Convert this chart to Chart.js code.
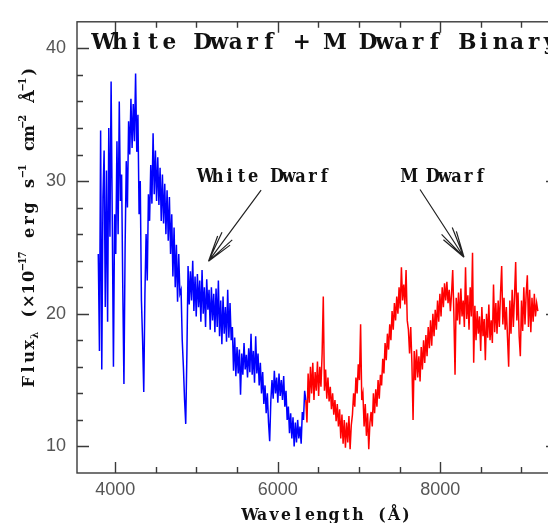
<!DOCTYPE html>
<html>
<head>
<meta charset="utf-8">
<script src="https://cdn.jsdelivr.net/npm/chart.js@4.4.1/dist/chart.umd.min.js"></script>
<style>
	html, body { margin: 0; padding: 0; background: #fff; overflow: hidden; }
</style>
</head>
<body>
<canvas id="spectrum" width="570" height="523"></canvas>
<script>
// wavelength grid (Angstrom) and flux (1e-17 erg/s/cm2/A)
const gridStep = 14.35;
const blueStart = 3792;
const blueFlux = [
	24.5, 17.2, 33.8, 15.8, 28.8, 32.3, 20.5, 30.8, 19.4, 34.0,
	25.8, 37.5, 27.0, 16.0, 27.5, 24.5, 33.0, 26.0, 36.0, 28.5,
	30.5, 22.0, 14.7, 25.0, 31.5, 28.0, 34.5, 32.0, 36.2, 32.5,
	35.8, 33.0, 38.1, 32.2, 35.0, 27.5, 30.0, 21.0, 18.0, 14.1,
	21.5, 26.0, 22.5, 29.0, 27.0, 31.2, 28.3, 33.6, 29.0, 32.3,
	28.5, 31.8, 28.2, 31.0, 27.0, 30.5, 26.8, 29.8, 26.0, 29.3,
	25.5, 28.8, 24.5, 27.5, 22.8, 26.5, 22.0, 25.2, 20.9, 24.5,
	21.5, 21.8, 18.0, 16.0, 13.5, 11.7, 17.0, 23.6, 20.7, 23.2,
	21.0, 24.0, 20.2, 22.8, 19.8, 23.0, 20.5, 22.5, 19.4, 23.3,
	20.0, 22.0, 19.0, 22.6, 20.3, 21.8, 18.8, 22.0, 19.5, 21.5,
	18.6, 21.9, 19.0, 22.5, 18.3, 21.0, 17.7, 21.3, 18.5, 20.5,
	17.9, 21.8, 18.2, 20.8, 18.0, 19.0, 15.7, 18.2, 15.3, 17.5,
	15.5, 17.3, 13.9, 17.0, 15.4, 17.8, 15.8, 16.9, 15.2, 17.4,
	15.6, 18.5, 15.4, 17.2, 14.8, 18.3, 15.5, 17.0, 14.6, 16.3,
	14.0, 15.6, 13.2, 14.6, 12.5, 14.0, 11.8, 10.4, 13.5, 15.0,
	13.6, 15.7, 14.0, 15.2, 13.3, 15.5, 13.8, 15.0, 13.5, 15.3,
	13.0, 14.2, 12.0, 13.0, 11.0, 12.5, 10.6, 12.2, 10.0, 11.8,
	10.3, 12.0, 10.6, 11.5, 10.2, 12.6, 12.0, 14.2, 13.5
];
const redStart = 6346;
const redFlux = [
	13.5, 11.8, 15.5, 13.3, 16.0, 14.0, 16.3, 13.5, 15.6, 14.2,
	16.4, 13.8, 16.0, 14.5, 17.0, 21.3, 14.2, 15.8, 13.6, 15.2,
	13.4, 14.5, 12.8, 14.0, 12.4, 13.5, 11.9, 13.2, 11.5, 12.8,
	10.6, 12.4, 10.2, 12.0, 9.9, 11.8, 10.3, 12.3, 9.8, 11.6,
	12.4, 14.0, 13.0, 15.2, 14.0, 16.2, 15.0, 19.2, 13.5, 14.0,
	11.5, 13.2, 10.8, 12.5, 9.8, 11.8, 12.6, 11.5, 14.0, 12.5,
	14.3, 13.0, 15.0, 13.6, 15.4, 14.6, 16.6, 15.5, 17.8, 16.5,
	18.5, 17.3, 19.2, 18.0, 20.2, 18.8, 20.8, 19.5, 21.3, 20.0,
	22.0, 20.4, 23.5, 21.0, 22.2, 20.7, 23.3, 19.5, 18.8, 17.0,
	19.0, 16.3, 12.0, 17.2, 15.0, 17.3, 15.2, 16.8, 14.9, 17.5,
	15.8, 18.0, 16.3, 18.4, 16.8, 19.0, 17.4, 19.5, 17.6, 20.0,
	18.3, 20.3, 18.8, 21.0, 19.4, 21.5, 19.8, 22.0, 20.5, 22.3,
	21.0, 22.4, 20.8, 21.8, 20.2, 21.5, 23.3, 20.0, 15.4, 21.2,
	19.5, 21.6, 19.2, 21.9, 19.8, 21.0, 19.0, 23.5, 19.6, 21.4,
	18.8, 22.0, 19.8, 24.6, 16.3, 20.6, 18.0, 20.2, 18.5, 19.8,
	17.2, 20.5, 18.3, 19.6, 16.5, 20.0, 18.2, 20.7, 18.0, 19.5,
	17.8, 22.2, 18.6, 20.8, 18.5, 21.0, 19.0, 21.5, 23.6, 19.2,
	21.2, 18.8, 20.5, 18.2, 16.0, 21.0, 18.5, 21.8, 19.0, 21.3,
	23.9, 19.5, 21.6, 18.3, 16.8, 21.0, 18.7, 22.0, 19.2, 21.5,
	22.9, 19.0, 21.8, 18.6, 21.2, 19.4, 21.5, 19.8, 20.8, 20.2
];

// axis limits and tick marks
const xRange = [3530, 9450];
const yRange = [8, 42];
const xTickValues = [4000, 4500, 5000, 5500, 6000, 6500, 7000, 7500, 8000, 8500, 9000];
const xLabelValues = [4000, 6000, 8000];
const yTickValues = [10, 12, 14, 16, 18, 20, 22, 24, 26, 28, 30, 32, 34, 36, 38, 40];
const yLabelValues = [10, 20, 30, 40];

const titleText = 'White Dwarf + M Dwarf Binary';
const xTitle = 'Wavelength (Å)';

const serif = '"DejaVu Serif"';

function toPoints(start, flux) {
	return flux.map((y, i) => ({ x: start + i * gridStep, y: y }));
}

// draw characters each centred in a fixed cell (PGPLOT-like spacing)
// parts: [text, cellScale, baselineShiftEm]
function cellText(ctx, parts, x, y, cell, size, sx) {
	parts.forEach(([str, k, shift]) => {
		for (const ch of str) {
			const w = cell * k;
			ctx.save();
			ctx.translate(x + w / 2, y + shift * size);
			ctx.scale(sx, 1);
			ctx.font = `bold ${(k < 1 ? size * 0.62 : size).toFixed(1)}px ${serif}`;
			ctx.textAlign = 'center';
			ctx.textBaseline = 'alphabetic';
			ctx.fillStyle = '#111';
			ctx.fillText(ch, 0, 0);
			ctx.restore();
			x += w;
		}
	});
}

function arrow(ctx, x1, y1, x2, y2) {
	const ang = Math.atan2(y1 - y2, x1 - x2);
	ctx.beginPath();
	ctx.moveTo(x1, y1);
	ctx.lineTo(x2, y2);
	[[-0.2, 32], [0.2, 32], [-0.29, 27], [0.29, 27]].forEach(([d, len]) => {
		ctx.moveTo(x2, y2);
		ctx.lineTo(x2 + len * Math.cos(ang + d), y2 + len * Math.sin(ang + d));
	});
	ctx.stroke();
}

const framePlugin = {
	id: 'frameAndText',
	afterDraw(chart) {
		const ctx = chart.ctx;
		const { left, right, top, bottom } = chart.chartArea;
		const xs = chart.scales.x;
		const ys = chart.scales.y;

		ctx.save();
		// frame with inward ticks
		ctx.strokeStyle = '#3a3a3a';
		ctx.lineWidth = 1.4;
		ctx.strokeRect(left, top, right - left, bottom - top);
		ctx.beginPath();
		xTickValues.forEach(v => {
			const len = xLabelValues.includes(v) ? 11 : 6;
			const px = Math.round(xs.getPixelForValue(v)) + 0.5;
			ctx.moveTo(px, bottom); ctx.lineTo(px, bottom - len);
			ctx.moveTo(px, top); ctx.lineTo(px, top + len);
		});
		yTickValues.forEach(v => {
			const len = yLabelValues.includes(v) ? 12 : 6;
			const py = Math.round(ys.getPixelForValue(v)) + 0.5;
			ctx.moveTo(left, py); ctx.lineTo(left + len, py);
			ctx.moveTo(right, py); ctx.lineTo(right - len, py);
		});
		ctx.stroke();

		// title inside the frame
		cellText(ctx, [[titleText, 1, 0]], left + 18, top + 27, 16.55, 22, 0.98);

		// labels with arrows (data coordinates)
		ctx.strokeStyle = '#222';
		ctx.lineWidth = 1.2;
		cellText(ctx, [['White Dwarf', 1, 0]], xs.getPixelForValue(5044), ys.getPixelForValue(29.93), 11.83, 18, 0.9);
		arrow(ctx, xs.getPixelForValue(5796), ys.getPixelForValue(29.31), xs.getPixelForValue(5148), ys.getPixelForValue(23.95));
		cellText(ctx, [['M Dwarf', 1, 0]], xs.getPixelForValue(7546), ys.getPixelForValue(29.93), 11.83, 18, 0.9);
		arrow(ctx, xs.getPixelForValue(7752), ys.getPixelForValue(29.36), xs.getPixelForValue(8293), ys.getPixelForValue(24.26));

		// axis titles
		cellText(ctx, [[xTitle, 1, 0]], left + 167, bottom + 47, 12, 17, 0.92);

		ctx.translate(34, 388);
		ctx.rotate(-Math.PI / 2);
		cellText(ctx, [
			['Flux', 1, 0], ['λ', 0.5, 0.22],
			[' (×10', 1, 0], ['−17', 0.5, -0.45],
			[' erg s', 1, 0], ['−1', 0.5, -0.45],
			[' cm', 1, 0], ['−2', 0.5, -0.45],
			[' Å', 1, 0], ['−1', 0.5, -0.45],
			[')', 1, 0]
		], 0, 0, 12.4, 17.5, 0.92);
		ctx.restore();
	}
};

new Chart(document.querySelector('#spectrum'), {
	type: 'line',
	data: {
		datasets: [{
			label: 'White Dwarf',
			data: toPoints(blueStart, blueFlux),
			borderColor: '#0000ff',
			borderWidth: 1.5,
			pointRadius: 0,
			tension: 0
		}, {
			label: 'M Dwarf',
			data: toPoints(redStart, redFlux),
			borderColor: '#ff0000',
			borderWidth: 1.5,
			pointRadius: 0,
			tension: 0
		}]
	},
	options: {
		responsive: false,
		animation: false,
		events: [],
		layout: { padding: { top: 12, right: 12, left: 0, bottom: 0 } },
		plugins: {
			legend: { display: false },
			tooltip: { enabled: false }
		},
		scales: {
			x: {
				type: 'linear',
				min: xRange[0],
				max: xRange[1],
				grid: { display: false, drawTicks: false },
				border: { display: false },
				afterBuildTicks: s => { s.ticks = xLabelValues.map(v => ({ value: v })); },
				ticks: {
					autoSkip: false,
					maxRotation: 0,
					padding: 6,
					color: '#555',
					font: { size: 18, family: 'Liberation Sans' },
					callback: v => String(v)
				},
				afterFit: s => { s.height = 50; }
			},
			y: {
				min: yRange[0],
				max: yRange[1],
				grid: { display: false, drawTicks: false },
				border: { display: false },
				afterBuildTicks: s => { s.ticks = yLabelValues.map(v => ({ value: v })); },
				ticks: {
					autoSkip: false,
					padding: 11,
					color: '#555',
					font: { size: 18, family: 'Liberation Sans' },
					callback: v => String(v)
				},
				afterFit: s => { s.width = 77; }
			}
		}
	},
	plugins: [framePlugin]
});
</script>
</body>
</html>
